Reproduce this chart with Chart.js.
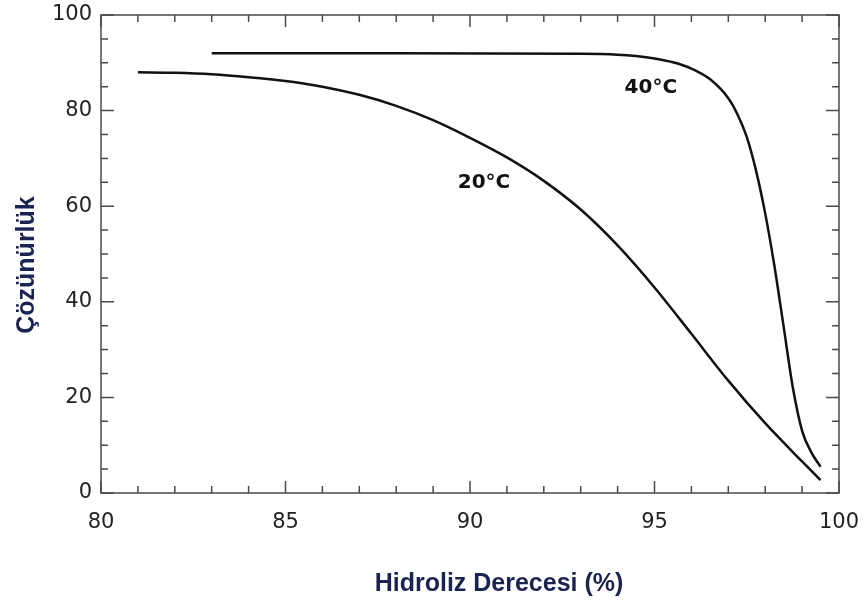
<!DOCTYPE html>
<html>
<head>
<meta charset="utf-8">
<script src="https://cdn.jsdelivr.net/npm/chart.js@4.4.1/dist/chart.umd.min.js"></script>
<style>
html, body { margin: 0; padding: 0; background: #fff; }
#wrap { width: 863px; height: 601px; }
</style>
</head>
<body>
<div id="wrap"><canvas id="chart" width="863" height="601"></canvas></div>
<script>
// solubility vs. degree of hydrolysis, two temperatures
const degree20 = [81, 82, 83, 84, 85, 86, 87, 88, 89, 90, 91, 92, 93, 94, 95, 96, 97, 98, 99, 99.5];
const solubility20 = [88, 87.9, 87.6, 87.0, 86.2, 85.0, 83.3, 81.0, 78.0, 74.3, 70.2, 65.3, 59.3, 51.8, 43.0, 33.3, 23.5, 14.6, 6.6, 2.7];

const degree40 = [83, 88, 93, 94, 94.5, 95, 95.5, 96, 96.5, 97, 97.25, 97.5, 97.75, 98, 98.25, 98.5, 98.75, 99, 99.25, 99.5];
const solubility40 = [92, 92, 91.9, 91.7, 91.4, 90.9, 90.1, 88.8, 86.6, 82.6, 79.2, 74.5, 67.5, 58.5, 47.5, 34.8, 22, 13, 8.5, 5.5];

const seriesNames = ['20°C', '40°C'];
const xTicks = [80, 85, 90, 95, 100];
const yTicks = [0, 20, 40, 60, 80, 100];
const xTitle = 'Hidroliz Derecesi (%)';
const yTitle = 'Çözünürlük';

const TITLE_FONT = '"Liberation Sans", Arial, sans-serif';
const TICK_FONT = '"DejaVu Sans", sans-serif';
const AXIS_COLOR = '#4a4a4a';
const TITLE_COLOR = '#1b2350';

function toPoints(xs, ys) {
    return xs.map((x, i) => ({ x: x, y: ys[i] }));
}

// box around the plot with inward major/minor ticks on all four sides
const framePlugin = {
    id: 'frame',
    afterDraw(chart) {
        const ctx = chart.ctx;
        const area = chart.chartArea;
        const xs = chart.scales.x;
        const ys = chart.scales.y;
        ctx.save();
        ctx.strokeStyle = AXIS_COLOR;
        ctx.lineWidth = 1.5;
        ctx.strokeRect(area.left, area.top, area.right - area.left, area.bottom - area.top);

        ctx.beginPath();
        for (let v = 80; v <= 100; v += 1) {
            const px = xs.getPixelForValue(v);
            const len = v % 5 === 0 ? 12 : 7;
            ctx.moveTo(px, area.bottom);
            ctx.lineTo(px, area.bottom - len);
            ctx.moveTo(px, area.top);
            ctx.lineTo(px, area.top + len);
        }
        for (let v = 0; v <= 100; v += 5) {
            const py = ys.getPixelForValue(v);
            const len = v % 20 === 0 ? 13 : 7;
            ctx.moveTo(area.left, py);
            ctx.lineTo(area.left + len, py);
            ctx.moveTo(area.right, py);
            ctx.lineTo(area.right - len, py);
        }
        ctx.stroke();
        ctx.restore();
    }
};

// axis titles and curve labels
const textPlugin = {
    id: 'texts',
    afterDraw(chart) {
        const ctx = chart.ctx;
        const xs = chart.scales.x;
        const ys = chart.scales.y;
        ctx.save();
        ctx.textAlign = 'center';
        ctx.textBaseline = 'middle';

        ctx.fillStyle = TITLE_COLOR;
        ctx.font = 'bold 25px ' + TITLE_FONT;
        ctx.fillText(xTitle, 499, 584);

        ctx.save();
        ctx.translate(27, 265);
        ctx.rotate(-Math.PI / 2);
        ctx.fillText(yTitle, 0, 0);
        ctx.restore();

        ctx.fillStyle = '#111';
        ctx.font = 'bold 20px ' + TICK_FONT;
        ctx.fillText(seriesNames[0], xs.getPixelForValue(90.38), ys.getPixelForValue(65));
        ctx.fillText(seriesNames[1], xs.getPixelForValue(94.9), ys.getPixelForValue(84.8));
        ctx.restore();
    }
};

const lineStyle = {
    showLine: true,
    borderColor: '#111',
    borderWidth: 2.5,
    pointRadius: 0,
    fill: false,
    cubicInterpolationMode: 'monotone'
};

new Chart(document.getElementById('chart'), {
    type: 'scatter',
    data: {
        datasets: [
            Object.assign({ label: seriesNames[0], data: toPoints(degree20, solubility20) }, lineStyle),
            Object.assign({ label: seriesNames[1], data: toPoints(degree40, solubility40) }, lineStyle)
        ]
    },
    options: {
        responsive: false,
        animation: false,
        layout: { padding: { top: 15, right: 24, bottom: 0, left: 0 } },
        plugins: {
            legend: { display: false },
            tooltip: { enabled: false }
        },
        scales: {
            x: {
                type: 'linear',
                min: 80,
                max: 100,
                grid: { display: false, drawTicks: false },
                border: { display: false },
                afterBuildTicks: scale => { scale.ticks = xTicks.map(v => ({ value: v })); },
                afterFit: scale => {
                    scale.height = 108;
                    scale.paddingLeft = 0;
                    scale.paddingRight = 0;
                },
                ticks: {
                    padding: 17,
                    color: '#222',
                    font: { family: TICK_FONT, size: 21 }
                }
            },
            y: {
                type: 'linear',
                min: 0,
                max: 100,
                grid: { display: false, drawTicks: false },
                border: { display: false },
                afterBuildTicks: scale => { scale.ticks = yTicks.map(v => ({ value: v })); },
                afterFit: scale => {
                    scale.width = 101;
                    scale.paddingTop = 0;
                    scale.paddingBottom = 0;
                },
                ticks: {
                    padding: 9,
                    color: '#222',
                    font: { family: TICK_FONT, size: 21 }
                }
            }
        }
    },
    plugins: [framePlugin, textPlugin]
});
</script>
</body>
</html>
